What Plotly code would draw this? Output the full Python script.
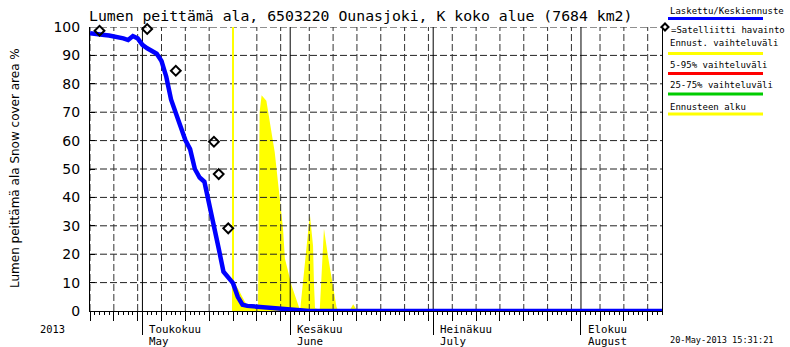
import plotly.graph_objects as go
import pandas as pd

# ---------------- data ----------------
x_start = "2013-04-20"
x_end = "2013-08-18"
forecast_start = "2013-05-20"

line_dates = ["2013-04-20", "2013-04-22", "2013-04-23", "2013-04-24", "2013-04-26",
              "2013-04-27", "2013-04-28", "2013-04-29", "2013-04-30", "2013-05-01",
              "2013-05-02", "2013-05-03", "2013-05-04", "2013-05-05", "2013-05-06",
              "2013-05-07", "2013-05-08", "2013-05-09", "2013-05-10", "2013-05-11",
              "2013-05-12", "2013-05-13", "2013-05-14", "2013-05-15", "2013-05-16",
              "2013-05-17", "2013-05-18", "2013-05-19", "2013-05-20", "2013-05-21",
              "2013-05-22", "2013-05-23", "2013-05-25", "2013-05-30", "2013-06-02",
              "2013-06-05", "2013-08-18"]
line_values = [97.8, 97.6, 97.2, 97.0, 96.6,
               96.0, 95.4, 96.8, 96.0, 93.7,
               92.5, 91.5, 90.6, 88.0, 82.5,
               74.5, 70.2, 65.0, 60.2, 57.0,
               50.0, 47.0, 45.5, 38.0, 31.0,
               22.0, 13.8, 12.0, 9.8, 5.0,
               2.2, 1.8, 1.5, 0.7, 0.1,
               0.0, 0.0]

sat_dates = ["2013-04-22", "2013-05-02", "2013-05-08", "2013-05-16", "2013-05-17", "2013-05-19"]
sat_values = [98.7, 99.3, 84.6, 59.6, 48.2, 29.1]

band_dates = ["2013-05-20 00:00", "2013-05-21 00:00", "2013-05-22 12:00", "2013-05-23 00:00",
              "2013-05-25 06:00", "2013-05-25 14:00", "2013-05-26 00:00", "2013-05-27 00:00",
              "2013-05-28 18:00", "2013-05-29 18:00", "2013-05-30 12:00", "2013-05-30 21:00",
              "2013-06-01 07:00", "2013-06-02 17:00", "2013-06-03 02:00", "2013-06-05 03:00",
              "2013-06-05 19:00", "2013-06-06 00:00", "2013-06-06 05:00", "2013-06-07 05:00",
              "2013-06-08 02:00", "2013-06-09 00:00", "2013-06-10 00:00", "2013-06-10 17:00",
              "2013-06-11 00:00", "2013-06-13 12:00", "2013-06-14 05:00", "2013-06-15 00:00",
              "2013-06-16 00:00"]
band_values = [10.5, 8.0, 3.3, 2.0,
               1.5, 70.0, 76.0, 74.0,
               56.0, 41.0, 29.0, 18.6,
               9.0, 2.0, 0.3, 34.0,
               23.0, 9.0, 1.0, 0.5,
               29.0, 18.5, 9.0, 1.5,
               0.3, 0.3, 2.4, 0.3,
               0.0]

y_ticks = [0, 10, 20, 30, 40, 50, 60, 70, 80, 90, 100]
month_starts = ["2013-05-01", "2013-06-01", "2013-07-01", "2013-08-01"]
month_fi = ["Toukokuu", "Kesäkuu", "Heinäkuu", "Elokuu"]
month_en = ["May", "June", "July", "August"]
year_label = "2013"
title_text = "Lumen peittämä ala, 6503220 Ounasjoki, K koko alue (7684 km2)"
y_title = "Lumen peittämä ala Snow cover area %"
timestamp = "20-May-2013 15:31:21"
legend_labels = ["Laskettu/Keskiennuste", "=Satelliitti havainto", "Ennust. vaihteluväli",
                 "5-95% vaihteluväli", "25-75% vaihteluväli", "Ennusteen alku"]
legend_colors = ["#0000ff", None, "#ffff00", "#ff0000", "#00cc00", "#ffff00"]

# ---------------- layout helpers ----------------
W, H = 790, 347
L, R, T, B = 90, 662, 27, 311


def px(x):
    return (x - L) / (R - L)


def py(y):
    return (B - y) / (B - T)


days = pd.date_range(x_start, x_end, freq="D")
five_day = [d.strftime("%Y-%m-%d") for d in days if d.day in (5, 10, 15, 20, 25, 30)]

fig = go.Figure()

# yellow forecast range
fig.add_trace(go.Scatter(x=band_dates, y=band_values, mode="lines", fill="tozeroy",
                         fillcolor="#ffff00", line=dict(width=0, color="#ffff00"),
                         hoverinfo="skip", showlegend=False))

# grid lines (drawn as traces so that they lie above the yellow fill)
gx, gy = [], []
for v in y_ticks[1:]:
    gx += [x_start, x_end, None]
    gy += [v, v, None]
fig.add_trace(go.Scatter(x=gx, y=gy, mode="lines", line=dict(color="#222", width=1, dash="7px,3px"),
                         hoverinfo="skip", showlegend=False))
vx, vy = [], []
for d in five_day:
    vx += [d, d, None]
    vy += [0, 100, None]
fig.add_trace(go.Scatter(x=vx, y=vy, mode="lines", line=dict(color="#333", width=1, dash="7px,3px"),
                         hoverinfo="skip", showlegend=False))
mx, my = [], []
for d in month_starts:
    mx += [d, d, None]
    my += [0, 100, None]
fig.add_trace(go.Scatter(x=mx, y=my, mode="lines", line=dict(color="#000", width=1),
                         hoverinfo="skip", showlegend=False))

# forecast start line
fig.add_trace(go.Scatter(x=[forecast_start, forecast_start], y=[0, 100], mode="lines",
                         line=dict(color="#ffff00", width=2), hoverinfo="skip", showlegend=False))

# simulated line
fig.add_trace(go.Scatter(x=line_dates, y=line_values, mode="lines",
                         line=dict(color="#0000ff", width=4.5), cliponaxis=False,
                         showlegend=False))

# satellite observations
fig.add_trace(go.Scatter(x=sat_dates, y=sat_values, mode="markers", cliponaxis=False,
                         marker=dict(symbol="diamond-open", size=7.5, color="black",
                                     line=dict(width=2, color="black")),
                         showlegend=False))

# dummy trace for overlaying month axis
fig.add_trace(go.Scatter(x=[x_start], y=[None], xaxis="x2", mode="markers",
                         showlegend=False, hoverinfo="skip"))

mono = "DejaVu Sans Mono"
ann = []
ann.append(dict(text=title_text, xref="paper", yref="paper", x=px(87), y=py(16),
                xanchor="left", yanchor="middle", showarrow=False,
                font=dict(family=mono, size=14.8, color="black")))
ann.append(dict(text=y_title, xref="paper", yref="paper", x=px(15), y=py(168),
                xanchor="center", yanchor="middle", textangle=-90, showarrow=False,
                font=dict(family="DejaVu Sans", size=12, color="black")))
ann.append(dict(text=year_label, xref="paper", yref="paper", x=px(52.5), y=py(329),
                xanchor="center", yanchor="middle", showarrow=False,
                font=dict(family=mono, size=10.4, color="black")))
for d, fi, en in zip(month_starts, month_fi, month_en):
    ann.append(dict(text=fi, xref="x", yref="paper", x=d, y=py(329), xshift=5,
                    xanchor="left", yanchor="middle", showarrow=False,
                    font=dict(family=mono, size=10.8, color="black")))
    ann.append(dict(text=en, xref="x", yref="paper", x=d, y=py(341), xshift=5,
                    xanchor="left", yanchor="middle", showarrow=False,
                    font=dict(family=mono, size=10.8, color="black")))
ann.append(dict(text=timestamp, xref="paper", yref="paper", x=px(668), y=py(340),
                xanchor="left", yanchor="middle", showarrow=False,
                font=dict(family=mono, size=8.6, color="black")))

text_y = [11.5, 30, 43.5, 65, 85, 106.5]
bar_y = [18.5, None, 53.5, 73.5, 94, 114]
shapes = []
for lab, col, ty, by in zip(legend_labels, legend_colors, text_y, bar_y):
    x0 = 669 if col is None else 668
    ann.append(dict(text=lab, xref="paper", yref="paper", x=px(x0), y=py(ty),
                    xanchor="left", yanchor="middle", showarrow=False,
                    font=dict(family=mono, size=9, color="black")))
    if col is not None:
        shapes.append(dict(type="line", xref="paper", yref="paper",
                           x0=px(668), x1=px(763), y0=py(by), y1=py(by),
                           line=dict(color=col, width=3)))
# legend diamond
cx, cy, r = 665, 27, 3.5
shapes.append(dict(type="path", xref="paper", yref="paper",
                   path=f"M {px(cx - r)},{py(cy)} L {px(cx)},{py(cy - r)} L {px(cx + r)},{py(cy)} L {px(cx)},{py(cy + r)} Z",
                   line=dict(color="black", width=2), fillcolor="white"))

fig.update_layout(
    width=W, height=H,
    margin=dict(l=L, r=W - R, t=T, b=H - B),
    paper_bgcolor="white", plot_bgcolor="white",
    showlegend=False,
    annotations=ann, shapes=shapes,
    xaxis=dict(type="date", range=[x_start, x_end], tickmode="array", tickvals=five_day,
               ticks="outside", ticklen=9, tickcolor="black", tickwidth=1,
               showticklabels=False, showgrid=False, zeroline=False,
               showline=True, linecolor="black", linewidth=1,
               minor=dict(ticks="outside", ticklen=3, tickmode="linear", tick0=x_start,
                          dtick=86400000, tickcolor="black", tickwidth=1, showgrid=False)),
    xaxis2=dict(type="date", range=[x_start, x_end], overlaying="x", anchor="y", side="bottom",
                tickmode="array", tickvals=month_starts, ticks="outside", ticklen=23,
                tickcolor="black", tickwidth=1, showticklabels=False, showgrid=False,
                zeroline=False, showline=False),
    yaxis=dict(range=[0, 100], tickmode="array", tickvals=y_ticks, ticks="inside", ticklen=5,
               tickcolor="black", showline=True, mirror=True, linecolor="black", linewidth=1,
               showgrid=False, zeroline=False, ticklabelstandoff=6,
               tickfont=dict(family="DejaVu Sans", size=14, color="black")),
)

fig.write_html("out.html")
